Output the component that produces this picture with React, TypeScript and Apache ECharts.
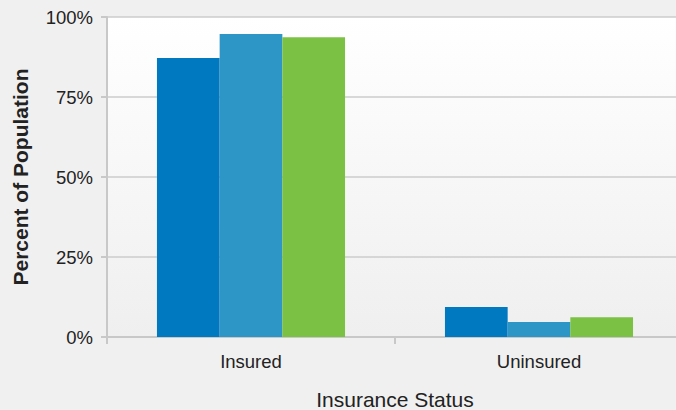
import React, { useEffect, useRef } from "react";
import * as echarts from "echarts";

const categories = ["Insured", "Uninsured"];
const seriesNames = ["Group 1", "Group 2", "Group 3"];
const group1 = [87.2, 9.4];
const group2 = [94.7, 4.7];
const group3 = [93.7, 6.2];
const yTicks = [0, 25, 50, 75, 100];
const colors = ["#0079c1", "#2e96c6", "#7bc143"];

const FONT = "'Liberation Sans', Arial, Helvetica, sans-serif";

export default function App() {
  const ref = useRef<HTMLDivElement>(null);
  useEffect(() => {
    if (!ref.current) return;
    const chart = echarts.init(ref.current, null, { renderer: "svg" });
    const values = [group1, group2, group3];
    chart.setOption({
      animation: false,
      backgroundColor: "#f0f0f0",
      textStyle: { fontFamily: FONT },
      grid: {
        left: 107,
        top: 17,
        width: 576,
        height: 320,
        outerBoundsMode: "none",
        containLabel: false,
        show: true,
        borderWidth: 0,
        backgroundColor: new echarts.graphic.LinearGradient(0, 0, 0, 1, [
          { offset: 0, color: "#ffffff" },
          { offset: 1, color: "#efefef" },
        ]),
      },
      xAxis: {
        type: "category",
        data: categories,
        name: "Insurance Status",
        nameLocation: "middle",
        nameGap: 53,
        nameTextStyle: { fontSize: 21, color: "#222", fontFamily: FONT, lineHeight: 19 },
        axisLine: { show: true, lineStyle: { color: "#c8c8c8", width: 2 } },
        axisTick: { show: true, length: 7, lineStyle: { color: "#c8c8c8", width: 2 } },
        axisLabel: { fontSize: 18.5, color: "#222", margin: 15, fontFamily: FONT },
      },
      yAxis: {
        type: "value",
        min: yTicks[0],
        max: yTicks[yTicks.length - 1],
        interval: 25,
        name: "Percent of Population",
        nameLocation: "middle",
        nameGap: 76,
        nameTextStyle: { fontSize: 21, fontWeight: "bold", color: "#222", fontFamily: FONT },
        axisLine: { show: true, lineStyle: { color: "#c8c8c8", width: 2 } },
        axisTick: { show: true, length: 6, lineStyle: { color: "#c8c8c8", width: 2 } },
        axisLabel: { fontSize: 18.5, color: "#222", margin: 14, formatter: "{value}%", fontFamily: FONT },
        splitLine: { show: true, lineStyle: { color: "#cccccc", width: 1.5 } },
      },
      series: seriesNames.map((name, i) => ({
        name,
        type: "bar",
        data: values[i],
        barGap: "0%",
        barCategoryGap: "34.7%",
        itemStyle: { color: colors[i] },
      })),
    });
    return () => chart.dispose();
  }, []);
  return <div ref={ref} style={{ width: 676, height: 410, position: "fixed", left: 0, top: 0 }} />;
}
